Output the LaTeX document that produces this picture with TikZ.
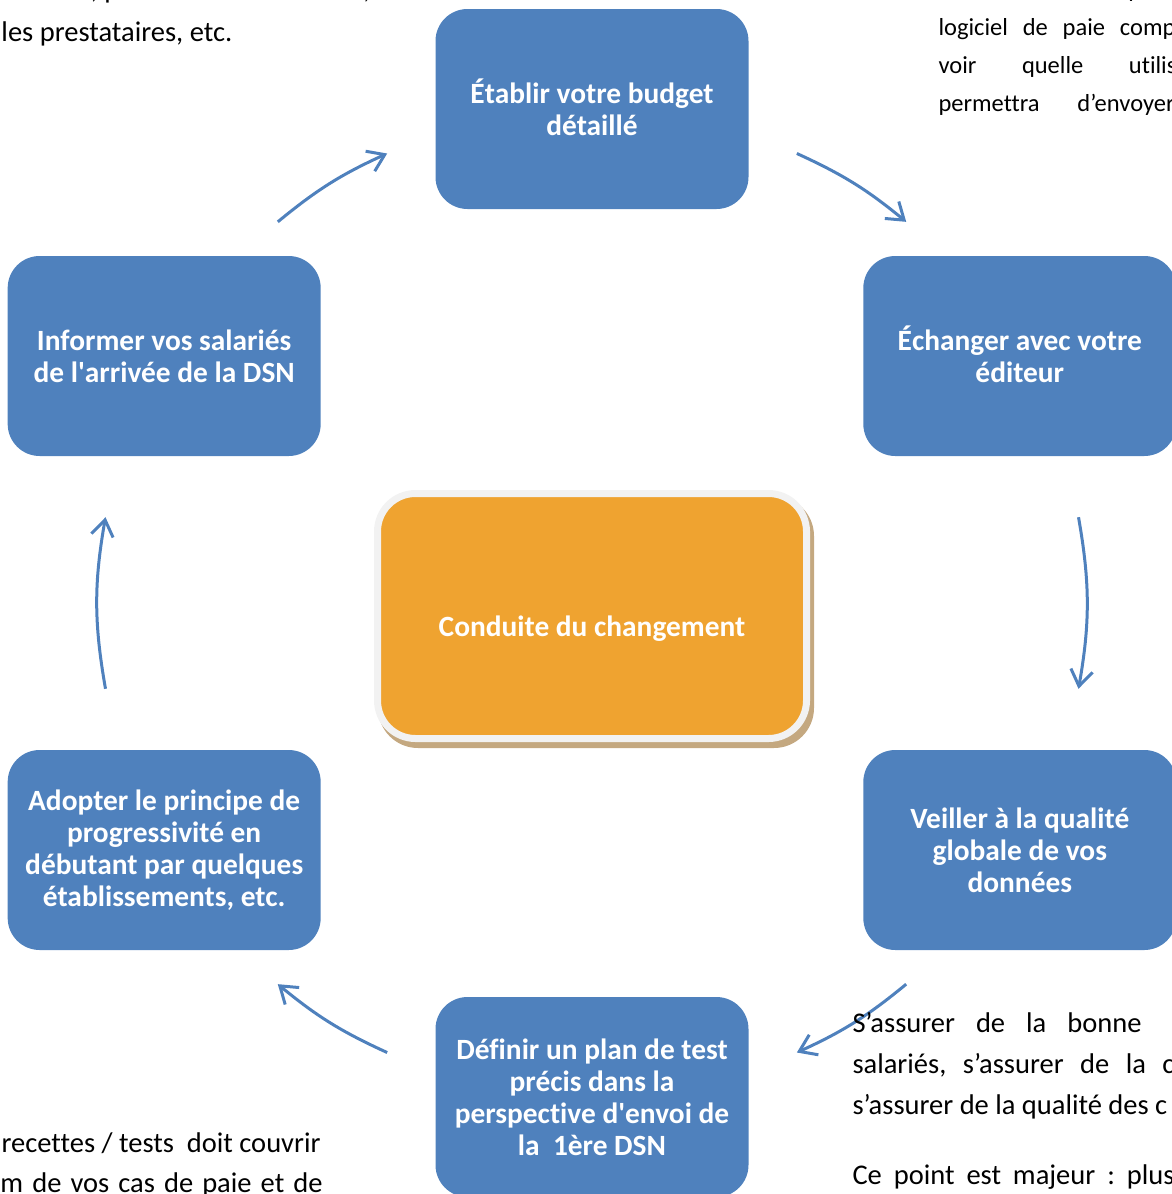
\documentclass[tikz,border=0pt]{standalone}
\usepackage{fontspec}
\setmainfont{Carlito}[Ligatures={TeX,NoCommon}]
\usepackage{tikz}
\usetikzlibrary{arrows.meta,calc}

\definecolor{bleu}{HTML}{4F81BD}
\definecolor{orange}{HTML}{EFA330}
\definecolor{bord}{HTML}{F2F2F2}
\definecolor{ombre}{HTML}{C4A880}

\begin{document}
\begin{tikzpicture}[x=1pt,y=1pt,>={Straight Barb[length=16pt,width=22pt]},line width=3pt]
	\tikzstyle{etape}=[rectangle,rounded corners=32pt,fill=bleu,draw=none,text=white,align=center,inner sep=0pt,minimum width=313pt,minimum height=200pt,font=\fontsize{29.4}{32}\selectfont\bfseries]
	\tikzstyle{fleche}=[->,draw=bleu]
	\tikzstyle{texte}=[anchor=base west,inner sep=0pt,font=\fontsize{28.5}{38}\selectfont]
	\tikzstyle{petit}=[texte,font=\fontsize{24.5}{38}\selectfont]

	\useasboundingbox (0,0) rectangle (1172,-1194);
	\clip (0,0) rectangle (1172,-1194);

	\coordinate (centre) at (592,-603);

	\node[etape] (budget)   at ($(centre)+(90:494)$)   {\smash{É}tablir votre budget\\détaillé};
	\node[etape] (editeur)  at ($(centre)+(30:494)$)   {\smash{É}changer avec votre\\éditeur};
	\node[etape] (qualite)  at ($(centre)+(-30:494)$)  {Veiller à la qualité\\globale de vos\\données};
	\node[etape] (test)     at ($(centre)+(-90:494)$)  {Définir un plan de test\\précis dans la\\perspective d\textquotesingle envoi de\\la~~1ère DSN};
	\node[etape] (progres)  at ($(centre)+(-150:494)$) {Adopter le principe de\\progressivité en\\débutant par quelques\\établissements, etc.};
	\node[etape] (informer) at ($(centre)+(150:494)$)  {Informer vos salariés\\de l\textquotesingle arrivée de la DSN};

	\node[fill=ombre,rounded corners=40pt,minimum width=436pt,minimum height=252pt,inner sep=0pt] (fond) at ($(centre)+(4,-19)$) {};
	\node[fill=orange,draw=bord,line width=7pt,rounded corners=38pt,minimum width=429pt,minimum height=245pt,inner sep=0pt,text=white,font=\fontsize{29.4}{36}\selectfont\bfseries] (conduite) at ($(centre)+(0,-13)$) {\raisebox{-20pt}[0pt][0pt]{Conduite du changement}};

	\foreach \n/\a/\b in {1/129.5/114.5,2/65.5/50.5,3/10/-10,4/-50.5/-65.5,5/-114.5/-129.5,6/190/170} {
		\coordinate (d\n) at ($(centre)+(\a:494)$);
		\coordinate (a\n) at ($(centre)+(\b:494)$);
	}

	\path (d1) edge [fleche,bend left=7.5] (a1)
	      (d2) edge [fleche,bend left=7.5] (a2)
	      (d3) edge [fleche,bend left=10]  (a3)
	      (d4) edge [fleche,bend left=7.5] (a4)
	      (d5) edge [fleche,bend left=7.5] (a5)
	      (d6) edge [fleche,bend left=10]  (a6);

	% texte de la page autour du schema
	\node[texte,anchor=base east] (hg1) at (372,2) {nécessaires, personnes concernées,};
	\node[texte] (hg2) at (0,-41) {les prestataires, etc.};

	\node[petit] (hd0) at (937,3)    {\hbox to 300pt{En\hfill fonction\hfill des\hfill possibilités}};
	\node[petit] (hd1) at (937,-35)  {\hbox to 237pt{logiciel\hfill de\hfill paie\hfill comp}};
	\node[petit] (hd2) at (937,-73)  {\hbox to 238pt{voir\hfill quelle\hfill utilis}};
	\node[petit] (hd3) at (937,-111) {\hbox to 236pt{permettra\hfill d’envoyer}};

	\node[texte] (bd1) at (851,-1032) {\hbox to 289pt{S’assurer\hfill de\hfill la\hfill bonne}};
	\node[texte] (bd2) at (851,-1073) {\hbox to 322pt{salariés,\hfill s’assurer\hfill de\hfill la\hfill c}};
	\node[texte] (bd3) at (851,-1114) {s’assurer de la qualité des c};
	\node[texte] (bd4) at (851,-1184) {\hbox to 322pt{Ce\hfill point\hfill est\hfill majeur\hfill :\hfill plus}};

	\node[texte,anchor=base east] (bg1) at (322,-1152) {recettes / tests~~doit couvrir};
	\node[texte] (bg2) at (-1,-1192) {\hbox to 322pt{m\hfill de\hfill vos\hfill cas\hfill de\hfill paie\hfill et\hfill de}};
\end{tikzpicture}
\end{document}
